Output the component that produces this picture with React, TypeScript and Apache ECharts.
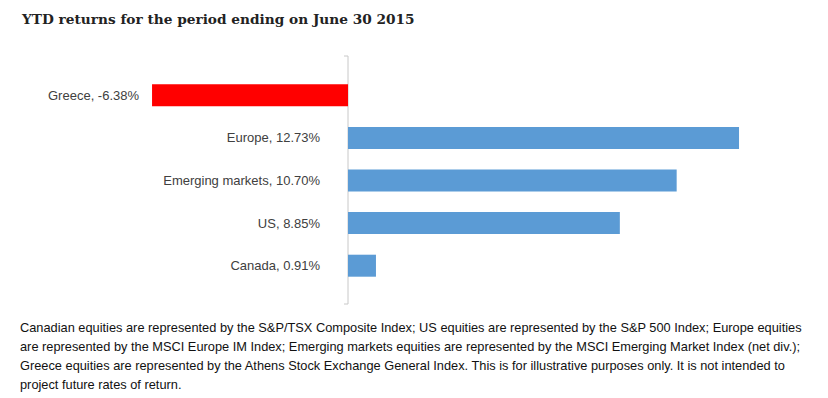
import React, { useEffect, useRef } from "react";
import * as echarts from "echarts";

const title = "YTD returns for the period ending on June 30 2015";
const categories = ["Greece", "Europe", "Emerging markets", "US", "Canada"];
const values = [-6.38, 12.73, 10.7, 8.85, 0.91];
const footnoteLines = [
  "Canadian equities are represented by the S&P/TSX Composite Index; US equities are represented by the S&P 500 Index; Europe equities",
  "are represented by the MSCI Europe IM Index; Emerging markets equities are represented by the MSCI Emerging Market Index (net div.);",
  "Greece equities are represented by the Athens Stock Exchange General Index. This is for illustrative purposes only. It is not intended to",
  "project future rates of return.",
];

export default function App() {
  const ref = useRef<HTMLDivElement>(null);
  useEffect(() => {
    if (!ref.current) return;
    const chart = echarts.init(ref.current, null, { renderer: "svg" });
    const labelFont = "'Liberation Sans', Arial, sans-serif";
    chart.setOption({
      animation: false,
      backgroundColor: "#ffffff",
      grid: { left: 40.85, top: 74, width: 767.9, height: 213, containLabel: false },
      xAxis: { type: "value", min: -10, max: 15, show: false },
      yAxis: { type: "category", data: categories, inverse: true, show: false },
      series: [
        {
          type: "bar",
          barWidth: 22,
          data: values.map((v, i) => ({
            value: v,
            itemStyle: { color: v < 0 ? "#FF0000" : "#5B9BD5" },
            label: {
              show: true,
              position: "left",
              distance: v < 0 ? 13 : 28,
              formatter: () => `${categories[i]}, ${v.toFixed(2)}%`,
              color: "#404040",
              fontFamily: labelFont,
              fontSize: 13,
            },
          })),
        },
      ],
      graphic: [
        {
          type: "text",
          left: 22,
          top: 12,
          style: {
            text: title,
            fill: "#222222",
            font: "bold 13.7px 'DejaVu Serif', Georgia, serif",
          },
        },
        {
          type: "line",
          shape: { x1: 348, y1: 56, x2: 348, y2: 304 },
          style: { stroke: "#C8C8C8", lineWidth: 1 },
        },
        {
          type: "line",
          shape: { x1: 344, y1: 56, x2: 348, y2: 56 },
          style: { stroke: "#C8C8C8", lineWidth: 1 },
        },
        {
          type: "line",
          shape: { x1: 344, y1: 304, x2: 348, y2: 304 },
          style: { stroke: "#C8C8C8", lineWidth: 1 },
        },
        ...footnoteLines.map((line, i) => ({
          type: "text",
          left: 20,
          top: 321 + i * 19,
          style: {
            text: line,
            fill: "#111111",
            font: "12.8px 'Liberation Sans', Arial, sans-serif",
          },
        })),
      ],
    });
    return () => chart.dispose();
  }, []);
  return (
    <div
      ref={ref}
      style={{ position: "fixed", left: 0, top: 0, width: 828, height: 398 }}
    />
  );
}
